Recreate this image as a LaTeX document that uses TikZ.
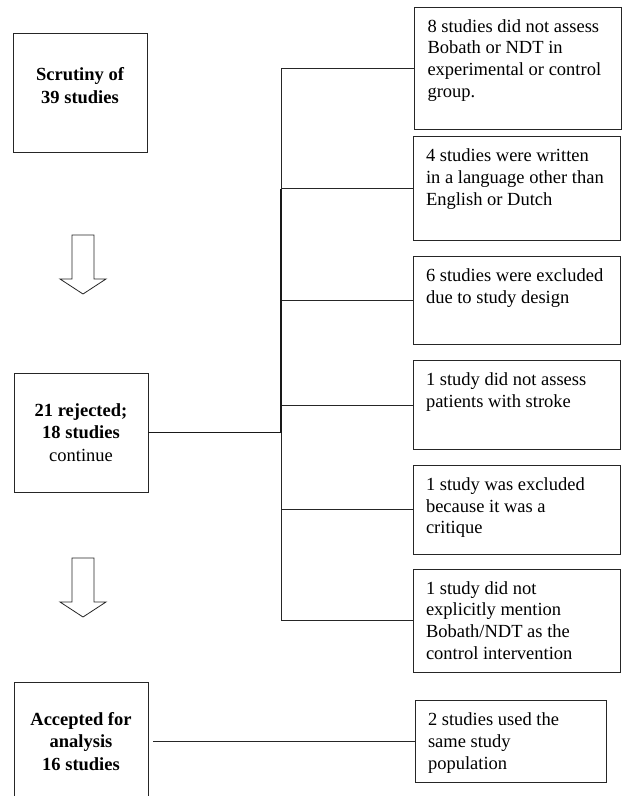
\documentclass[tikz,border=0pt]{standalone}
\usepackage{fontspec}
\setmainfont{Liberation Serif}
\usepackage{tikz}
\usetikzlibrary{positioning}

\newcommand{\lefttext}[2][0pt]{\parbox[c][119pt][c]{120pt}{\centering\bfseries #2\par\vspace*{#1}}}
\newcommand{\righttext}[3][181pt]{\parbox[c][#2][t]{#1}{\raggedright\strut #3}}

\begin{document}
\begin{tikzpicture}[
    x=1pt, y=-1pt,
    lbox/.style={rectangle, draw=black!85, line width=0.8pt, inner xsep=7pt, inner ysep=0pt, font=\fontsize{18.5}{22.5}\selectfont},
    rbox/.style={rectangle, draw=black!85, line width=0.8pt, inner xsep=13pt, inner ysep=10pt, font=\fontsize{18.5}{21.7}\selectfont},
    link/.style={draw=black!85, line width=0.8pt},
    mainlink/.style={draw=black!90, line width=1.8pt},
    hollow/.style={draw=black!85, line width=0.8pt, line join=miter}
]
\useasboundingbox (0,0) rectangle (622,796);

% Main stages
\node[lbox] (scrut) at (80,92.5) {\lefttext[14pt]{Scrutiny of\\39 studies}};
\node[lbox] (rej) at (81,432.5) {\lefttext{21 rejected;\\18 studies\\\mdseries continue}};
\node[lbox] (acc) at (81,741.5) {\lefttext{Accepted for\\analysis\\16 studies}};

% Down arrows
\coordinate (a1) at (83,235);
\coordinate (a2) at (83,558);
\foreach \a in {a1,a2}
    \draw[hollow] (\a) ++(-11,0) -- ++(0,44) -- ++(-12,0) -- ++(23,15) -- ++(23,-15) -- ++(-12,0) -- ++(0,-44) -- cycle;

% Exclusion reasons
\node[rbox] (r1) at (518,68) {\righttext{102pt}{8 studies did not assess\\Bobath or NDT in\\experimental or control\\group.}};
\node[rbox, below=7pt of r1, xshift=-1.5pt] (r2) {\righttext{84pt}{4 studies were written\\in a language other than\\English or Dutch}};
\node[rbox, below=15pt of r2] (r3) {\righttext{68pt}{6 studies were excluded\\due to study design}};
\node[rbox, below=15pt of r3] (r4) {\righttext{69pt}{1 study did not assess\\patients with stroke}};
\node[rbox, below=15pt of r4] (r5) {\righttext{69pt}{1 study was excluded\\because it was a\\critique}};
\node[rbox, below=14pt of r5] (r6) {\righttext{83pt}{1 study did not\\explicitly mention\\Bobath/NDT as the\\control intervention}};
\node[rbox] (r7) at (510.5,741.5) {\righttext[165pt]{62pt}{2 studies used the\\same study\\population}};

% Connectors
\coordinate (spine) at (281,0);
\draw[link] (spine |- r1.west) -- (spine |- r6.west);
\foreach \r in {r1,r2,r3,r4,r5,r6}
    \draw[link] (spine |- \r.west) -- (\r.west);
\draw[mainlink] (rej.east) -| (spine |- r2.west);
\draw[link] ([xshift=5pt]acc.east) -- (r7.west);
\end{tikzpicture}
\end{document}
